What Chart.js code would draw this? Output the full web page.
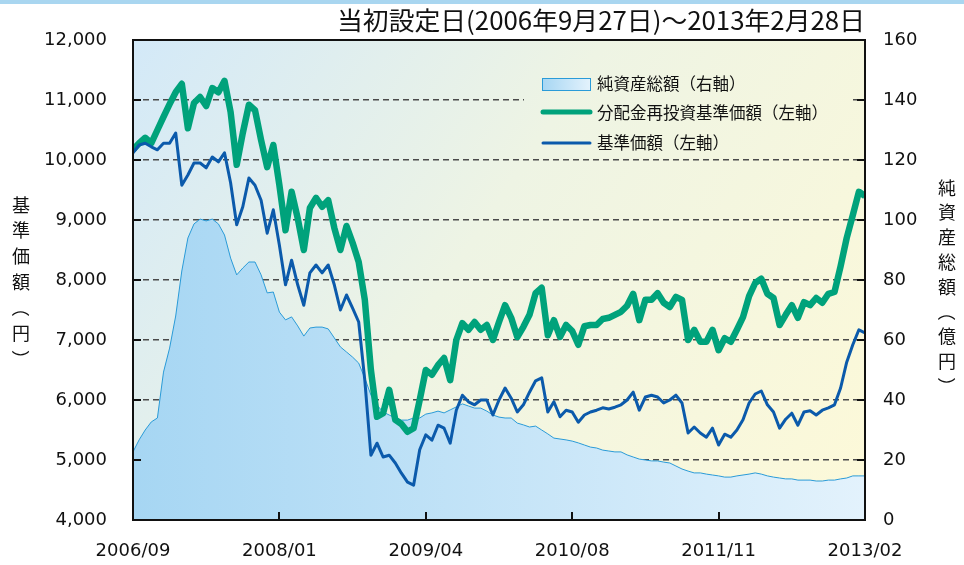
<!DOCTYPE html>
<html lang="ja">
<head>
<meta charset="utf-8">
<title>基準価額・純資産総額の推移</title>
<script src="https://cdn.jsdelivr.net/npm/chart.js@4.4.1/dist/chart.umd.min.js"></script>
<style>
  html, body { margin: 0; padding: 0; background: #fff; }
  #wrap { position: relative; width: 964px; height: 565px; }
</style>
</head>
<body>
<div id="wrap"><canvas id="navChart"></canvas></div>
<script>
// period: 2006/09/27 - 2013/02/28, equally spaced samples
const xLabels = ['2006/09', '2008/01', '2009/04', '2010/08', '2011/11', '2013/02'];
const titleText = '当初設定日(2006年9月27日)～2013年2月28日';

// 分配金再投資基準価額 (円, left axis)
const navReinvested = [
  10170, 10280, 10370, 10280, 10500, 10720, 10930, 11130, 11270, 10530,
  10950, 11050, 10900, 11200, 11130, 11320, 10800, 9920, 10450, 10920,
  10830, 10330, 9880, 10250, 9580, 8830, 9470, 9030, 8500, 9200,
  9370, 9220, 9330, 8870, 8500, 8900, 8620, 8300, 7670, 6500,
  5720, 5780, 6170, 5670, 5600, 5470, 5530, 6000, 6500, 6420,
  6580, 6700, 6330, 7000, 7280, 7170, 7300, 7170, 7250, 7000,
  7300, 7580, 7370, 7050, 7220, 7420, 7780, 7870, 7080, 7330,
  7050, 7250, 7150, 6920, 7230, 7250, 7250, 7350, 7370, 7420,
  7470, 7570, 7770, 7330, 7670, 7670, 7780, 7620, 7550, 7720,
  7670, 7000, 7170, 6970, 6970, 7170, 6830, 7030, 6970, 7170,
  7380, 7730, 7950, 8020, 7770, 7700, 7250, 7420, 7580, 7370,
  7630, 7580, 7700, 7620, 7770, 7800, 8230, 8700, 9080, 9470,
  9400
];

// 基準価額 (円, left axis)
const nav = [
  10120, 10250, 10280, 10220, 10170, 10280, 10280, 10450, 9580, 9750,
  9950, 9950, 9870, 10050, 9970, 10120, 9620, 8920, 9220, 9700,
  9580, 9330, 8780, 9170, 8580, 7920, 8330, 7920, 7580, 8120,
  8250, 8120, 8250, 7920, 7500, 7750, 7530, 7300, 6330, 5080,
  5280, 5050, 5080, 4950, 4780, 4630, 4580, 5170, 5420, 5330,
  5580, 5530, 5280, 5830, 6080, 5970, 5920, 6000, 6000, 5750,
  6000, 6200, 6030, 5800, 5920, 6130, 6320, 6370, 5800, 5970,
  5720, 5830, 5800, 5630, 5750, 5800, 5830, 5870, 5850, 5880,
  5920, 6000, 6130, 5830, 6050, 6080, 6050, 5950, 6000, 6080,
  5950, 5450, 5550, 5450, 5380, 5530, 5250, 5430, 5380, 5500,
  5670, 5950, 6100, 6150, 5920, 5800, 5530, 5680, 5780, 5580,
  5800, 5820, 5750, 5830, 5870, 5920, 6200, 6630, 6920, 7170,
  7120
];

// 純資産総額 (億円, right axis)
const netAssets = [
  22.7, 26.7, 30, 32.7, 34, 49.3, 57.3, 68, 83, 94,
  98.7, 100.3, 99.7, 100.3, 98.7, 95, 87.3, 81.7, 84, 86,
  86, 81.7, 75.7, 76, 69.3, 66.7, 67.7, 64.7, 61.3, 64,
  64.3, 64.3, 63.7, 60.7, 57.7, 56, 54.3, 52.3, 47.3, 41.7,
  38.3, 36, 35, 34, 33.3, 33.3, 34, 34, 35.3, 35.7,
  36.3, 35.7, 36.7, 37.7, 38.7, 38, 37.3, 37.3, 36.3, 35,
  34.3, 34, 34, 32.3, 31.7, 31, 31.3, 30, 28.7, 27.3,
  27, 26.7, 26.3, 25.7, 25, 24.3, 24, 23.3, 23, 22.7,
  22.7, 21.7, 21, 20.3, 20, 19.7, 19.7, 19.3, 19, 18,
  17, 16.3, 15.7, 15.7, 15.3, 15, 14.7, 14.3, 14.3, 14.7,
  15, 15.3, 15.7, 15.3, 14.7, 14.3, 14, 13.7, 13.7, 13.3,
  13.3, 13.3, 13, 13, 13.3, 13.3, 13.7, 14, 14.7, 14.7,
  14.7
];

const labelStep = (nav.length - 1) / (xLabels.length - 1);
const sampleIdx = nav.map((_, i) => i);

const GREEN = '#00a27b';
const BLUE = '#0b5aab';
const AREA_LINE = '#2a9bd8';
const tickFont = { family: '"DejaVu Sans"', size: 18 };
const jpFont = '"Noto Sans CJK JP"';

function plotGradient(ctx, a) {
  const g = ctx.createLinearGradient(a.left, a.top, a.right, a.bottom);
  g.addColorStop(0, '#d3e9f8');
  g.addColorStop(0.45, '#eef4e4');
  g.addColorStop(1, '#fdf9d8');
  return g;
}

function areaGradient(ctx, left, right) {
  const g = ctx.createLinearGradient(left, 0, right, 0);
  g.addColorStop(0, '#a6d6f3');
  g.addColorStop(1, '#e3f2fc');
  return g;
}

function drawVertical(ctx, text, x, centerY, step) {
  const chars = Array.from(text);
  let y = centerY - step * (chars.length - 1) / 2;
  chars.forEach((c) => {
    ctx.save();
    ctx.translate(x, y);
    if (c === '（' || c === '）') ctx.rotate(Math.PI / 2);
    ctx.fillText(c, 0, 0);
    ctx.restore();
    y += step;
  });
}

const decorPlugin = {
  id: 'decor',
  beforeDraw(chart) {
    const { ctx, chartArea: a } = chart;
    ctx.save();
    ctx.fillStyle = '#fff';
    ctx.fillRect(0, 0, chart.width, chart.height);
    ctx.fillStyle = '#a9d6f0';
    ctx.fillRect(0, 0, chart.width, 4);
    ctx.fillStyle = plotGradient(ctx, a);
    ctx.fillRect(a.left, a.top, a.width, a.height);
    ctx.restore();
  },
  beforeDatasetsDraw(chart) {
    // legend panel covers the grid line behind it
    const { ctx, chartArea: a } = chart;
    ctx.save();
    ctx.fillStyle = plotGradient(ctx, a);
    ctx.fillRect(524, 62, 327, 92);
    ctx.restore();
  },
  afterDraw(chart) {
    const { ctx, chartArea: a } = chart;
    const yL = chart.scales.y;
    const xS = chart.scales.x;
    ctx.save();

    // inward tick marks
    ctx.strokeStyle = '#111';
    ctx.lineWidth = 2;
    ctx.beginPath();
    yL.ticks.forEach((t) => {
      const py = Math.round(yL.getPixelForValue(t.value));
      ctx.moveTo(a.left, py); ctx.lineTo(a.left + 8, py);
      ctx.moveTo(a.right, py); ctx.lineTo(a.right - 8, py);
    });
    xS.ticks.forEach((t) => {
      const px = Math.round(xS.getPixelForValue(t.value));
      ctx.moveTo(px, a.bottom); ctx.lineTo(px, a.bottom - 8);
    });
    ctx.stroke();

    // frame
    ctx.lineWidth = 2;
    ctx.strokeRect(a.left, a.top, a.width, a.height);

    // legend
    const ds = chart.data.datasets;
    ctx.font = '16.5px ' + jpFont;
    ctx.textBaseline = 'middle';
    ctx.textAlign = 'left';
    ctx.fillStyle = areaGradient(ctx, 542, 590);
    ctx.fillRect(542.5, 78.5, 48, 12);
    ctx.strokeStyle = AREA_LINE;
    ctx.lineWidth = 1;
    ctx.strokeRect(542.5, 78.5, 48, 12);
    ctx.fillStyle = '#111';
    ctx.fillText(ds[2].label, 597, 84);

    ctx.lineCap = 'round';
    ctx.strokeStyle = GREEN;
    ctx.lineWidth = 5;
    ctx.beginPath(); ctx.moveTo(543, 112); ctx.lineTo(590, 112); ctx.stroke();
    ctx.fillText(ds[1].label, 597, 113);

    ctx.strokeStyle = BLUE;
    ctx.lineWidth = 3;
    ctx.beginPath(); ctx.moveTo(543, 143); ctx.lineTo(590, 143); ctx.stroke();
    ctx.fillText(ds[0].label, 597, 143);

    // axis titles, written vertically
    ctx.font = '18px ' + jpFont;
    ctx.textAlign = 'center';
    ctx.fillStyle = '#111';
    drawVertical(ctx, '基準価額（円）', 21, 282, 25.7);
    drawVertical(ctx, '純資産総額（億円）', 947, 287, 24.8);

    // period title, squeezed to the width used in the original
    ctx.font = '25px ' + jpFont;
    ctx.textAlign = 'left';
    const w = ctx.measureText(titleText).width;
    const target = 528;
    ctx.translate(a.right - target, 20);
    ctx.scale(target / w, 1);
    ctx.fillText(titleText, 0, 0);

    ctx.restore();
  }
};

const ctx = document.getElementById('navChart').getContext('2d');

new Chart(ctx, {
  type: 'line',
  data: {
    labels: sampleIdx,
    datasets: [
      {
        label: '基準価額（左軸）',
        data: nav,
        yAxisID: 'y',
        borderColor: BLUE,
        borderWidth: 3,
        pointRadius: 0,
        fill: false,
        order: 1,
      },
      {
        label: '分配金再投資基準価額（左軸）',
        data: navReinvested,
        yAxisID: 'y',
        borderColor: GREEN,
        borderWidth: 6.5,
        pointRadius: 0,
        fill: false,
        order: 2,
      },
      {
        label: '純資産総額（右軸）',
        data: netAssets,
        yAxisID: 'y2',
        borderColor: AREA_LINE,
        borderWidth: 1,
        pointRadius: 0,
        fill: 'origin',
        backgroundColor: (c) => {
          const a = c.chart.chartArea;
          if (!a) return '#bfe2f7';
          return areaGradient(c.chart.ctx, a.left, a.right);
        },
        order: 3,
      },
    ],
  },
  options: {
    responsive: true,
    maintainAspectRatio: false,
    animation: false,
    events: [],
    layout: { padding: { top: 40 } },
    elements: { line: { tension: 0, borderJoinStyle: 'round' } },
    plugins: {
      legend: { display: false },
      tooltip: { enabled: false },
    },
    scales: {
      x: {
        type: 'linear',
        min: 0,
        max: nav.length - 1,
        afterFit: (s) => { s.height = 45; },
        grid: { display: false, drawTicks: false },
        border: { display: false },
        ticks: {
          stepSize: labelStep,
          padding: 21,
          color: '#111',
          font: tickFont,
          maxRotation: 0,
          callback: (v) => xLabels[Math.round(v / labelStep)],
        },
      },
      y: {
        position: 'left',
        min: 4000,
        max: 12000,
        afterFit: (s) => { s.width = 133; },
        grid: { color: '#4a4a4a', lineWidth: 1.5, drawTicks: false },
        border: { display: false, dash: [6, 4] },
        ticks: {
          stepSize: 1000,
          padding: 26,
          color: '#111',
          font: tickFont,
          callback: (v) => v.toLocaleString('en-US'),
        },
      },
      y2: {
        position: 'right',
        min: 0,
        max: 160,
        afterFit: (s) => { s.width = 99; },
        grid: { display: false, drawTicks: false },
        border: { display: false },
        ticks: {
          stepSize: 20,
          padding: 18,
          color: '#111',
          font: tickFont,
        },
      },
    },
  },
  plugins: [decorPlugin],
});
</script>
</body>
</html>
